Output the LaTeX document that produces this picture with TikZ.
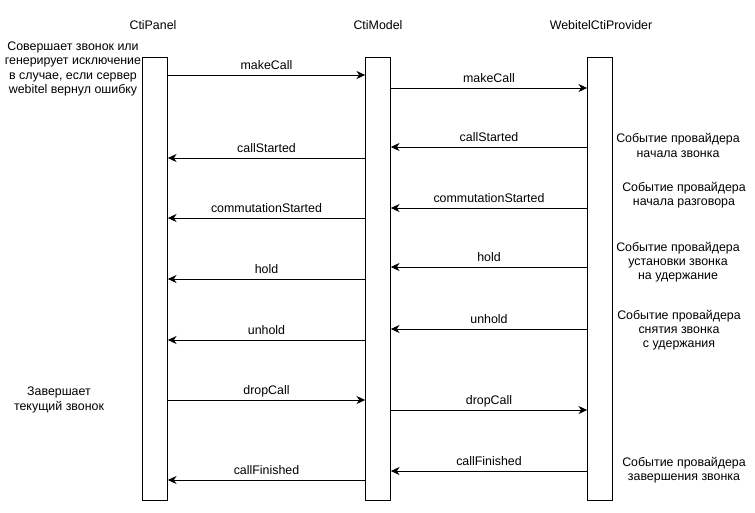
\documentclass[tikz,border=0pt]{standalone}
\usepackage{fontspec}
\setmainfont{Liberation Sans}
\usetikzlibrary{arrows.meta}

\begin{document}
\begin{tikzpicture}[x=0.75pt,y=0.75pt,yscale=-1,xscale=1,
  every node/.style={font=\fontsize{9.3}{10.6}\selectfont},
  lane/.style={draw,line width=0.75pt,minimum width=18.5pt,minimum height=332.5pt,inner sep=0pt},
  msg/.style={-{Stealth[length=6.5pt,width=6pt,inset=2pt]},line width=0.75pt},
  lbl/.style={midway,above,inner sep=1.5pt,text height=7pt,text depth=2pt},
  note/.style={align=center,inner sep=0pt}]
\useasboundingbox (0,0) rectangle (755,512);
\node[lane] (panel) at (155,279) {};
\node[lane] (model) at (378,279) {};
\node[lane] (provider) at (600,279) {};
\node (panelname) at (153,25) {CtiPanel};
\node (modelname) at (378,25) {CtiModel};
\node (providername) at (601,25) {WebitelCtiProvider};
\draw[msg] (panel.east |- 0,75) -- node[lbl]{makeCall} (model.west |- 0,75);
\draw[msg] (model.east |- 0,88) -- node[lbl]{makeCall} (provider.west |- 0,88);
\draw[msg] (provider.west |- 0,147) -- node[lbl]{callStarted} (model.east |- 0,147);
\draw[msg] (model.west |- 0,158) -- node[lbl]{callStarted} (panel.east |- 0,158);
\draw[msg] (provider.west |- 0,208) -- node[lbl]{commutationStarted} (model.east |- 0,208);
\draw[msg] (model.west |- 0,218) -- node[lbl]{commutationStarted} (panel.east |- 0,218);
\draw[msg] (provider.west |- 0,267) -- node[lbl]{hold} (model.east |- 0,267);
\draw[msg] (model.west |- 0,279) -- node[lbl]{hold} (panel.east |- 0,279);
\draw[msg] (provider.west |- 0,329) -- node[lbl]{unhold} (model.east |- 0,329);
\draw[msg] (model.west |- 0,340) -- node[lbl]{unhold} (panel.east |- 0,340);
\draw[msg] (panel.east |- 0,400) -- node[lbl]{dropCall} (model.west |- 0,400);
\draw[msg] (model.east |- 0,410) -- node[lbl]{dropCall} (provider.west |- 0,410);
\draw[msg] (provider.west |- 0,471) -- node[lbl]{callFinished} (model.east |- 0,471);
\draw[msg] (model.west |- 0,480) -- node[lbl]{callFinished} (panel.east |- 0,480);
\node[note] (makenote) at (73,69) {Совершает звонок или\\генерирует исключение\\в случае, если сервер\\webitel вернул ошибку};
\node[note] (dropnote) at (59,400) {Завершает\\текущий звонок};
\node[note] (startnote) at (678,145.5) {Событие провайдера\\начала звонка};
\node[note] (commnote) at (684,195) {Событие провайдера\\начала разговора};
\node[note] (holdnote) at (678,262) {Событие провайдера\\установки звонка\\на удержание};
\node[note] (unholdnote) at (679,330) {Событие провайдера\\снятия звонка\\с удержания};
\node[note] (finishnote) at (684,470.5) {Событие провайдера\\завершения звонка};
\end{tikzpicture}
\end{document}
